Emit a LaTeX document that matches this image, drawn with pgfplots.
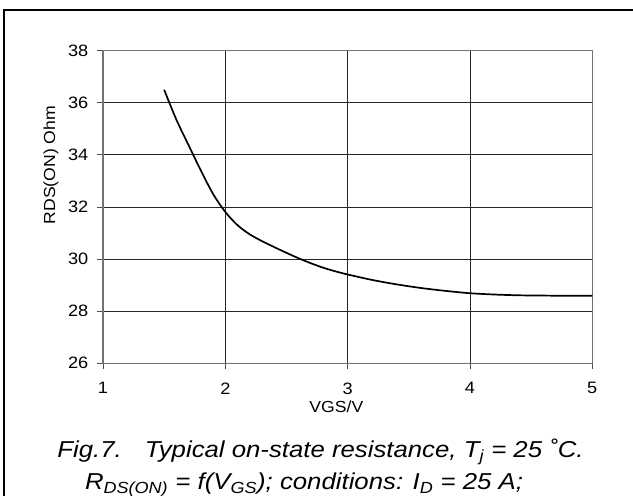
\documentclass[border=0pt]{standalone}
\usepackage{pgfplots}
\pgfplotsset{compat=1.18}
\usepackage{fontspec}
\setmainfont{Liberation Sans}
\newcommand{\sx}[1]{\scalebox{1.1}[1]{#1}}
\newcommand{\cx}[1]{\scalebox{1.12}[1]{#1}}
\begin{document}
\begin{tikzpicture}[x=1pt,y=1pt]
\useasboundingbox (0,0) rectangle (633,496);
\draw[line width=2.2pt] (4,-5) -- (4,486) -- (640,486);
\begin{axis}[
  at={(103pt,132.7pt)}, anchor=south west, scale only axis,
  width=489.3pt, height=312.6pt,
  xmin=1, xmax=5, ymin=26, ymax=38,
  xtick={1,2,3,4,5}, ytick={26,28,30,32,34,36,38},
  grid=major, major grid style={black!85, line width=0.9pt},
  axis line style={black!55, line width=1.2pt},
  tick style={black!70, line width=0.9pt}, tick align=outside, major tick length=6pt,
  tick pos=left,
  xticklabel={\sx{\pgfmathprintnumber{\tick}}},
  yticklabel={\sx{\pgfmathprintnumber{\tick}}},
  /pgf/number format/assume math mode=true,
  ticklabel style={font=\fontsize{16.5}{18}\selectfont, inner sep=0pt},
  yticklabel style={anchor=east, xshift=-8.5pt},
  xticklabel style={anchor=north, yshift=-13pt},
  xlabel={\sx{VGS/V}}, ylabel={\sx{RDS(ON) Ohm}},
  label style={font=\fontsize{16}{18}\selectfont, inner sep=0pt},
  xlabel style={at={(axis description cs:0.477,-0.12)}, anchor=north},
  ylabel style={at={(axis description cs:-0.1063,0.634)}, anchor=center, rotate=0},
]
\addplot[black, line width=1.7pt, smooth, tension=0.5] coordinates {
(1.5,36.5) (1.6,35.35) (1.7,34.37) (1.8,33.4) (1.9,32.5) (2.0,31.81)
(2.1,31.30) (2.2,30.95) (2.3,30.69) (2.4,30.46) (2.5,30.24) (2.6,30.03)
(2.7,29.84) (2.8,29.67) (2.9,29.53) (3.0,29.41) (3.2,29.20) (3.4,29.03)
(3.6,28.89) (3.8,28.78) (4.0,28.69) (4.2,28.64) (4.4,28.61) (4.6,28.60)
(4.8,28.59) (5.0,28.59)
};
\end{axis}
\node[anchor=base, inner sep=0pt, font=\fontsize{23}{26}\selectfont\itshape] at (320.5,38)
  {\cx{Fig.7.\hspace{0.9em}Typical on-state resistance, T\textsubscript{j} = 25 ˚C.}};
\node[anchor=base, inner sep=0pt, font=\fontsize{23}{26}\selectfont\itshape] at (304,6)
  {\cx{R\textsubscript{DS(ON)} = f(V\textsubscript{GS}); conditions: I\textsubscript{D} = 25 A;}};
\end{tikzpicture}
\end{document}
